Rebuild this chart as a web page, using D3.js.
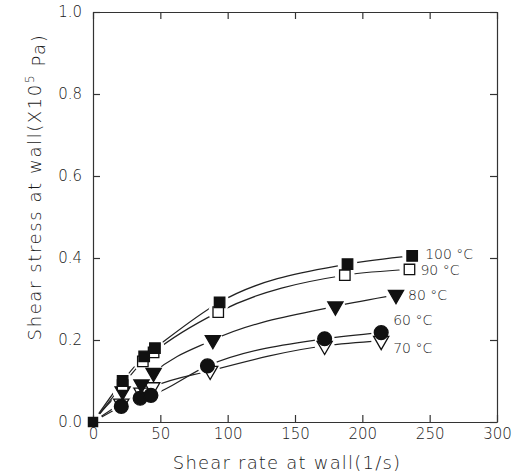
<!DOCTYPE html>
<html><head><meta charset="utf-8">
<script src="https://cdn.jsdelivr.net/npm/d3@7"></script>
<style>body{margin:0;background:#fff}svg{display:block}text{font-family:"DejaVu Sans",sans-serif;font-weight:200;fill:#1a1a1a}</style>
</head><body><svg id="c" width="520" height="476"></svg>
<script>
const xTicks = [0, 50, 100, 150, 200, 250, 300];
const yTicks = [0.0, 0.2, 0.4, 0.6, 0.8, 1.0];
const seriesNames = ["100 °C", "90 °C", "80 °C", "60 °C", "70 °C"];
const shearRate100 = [0, 22, 38, 46, 94, 189, 237];
const stress100 = [0, 0.100, 0.160, 0.180, 0.292, 0.385, 0.405];
const shearRate90 = [0, 22, 37, 45, 93, 187, 235];
const stress90 = [0, 0.090, 0.148, 0.170, 0.268, 0.358, 0.372];
const shearRate80 = [0, 22, 36, 45, 89, 180, 225];
const stress80 = [0, 0.075, 0.092, 0.120, 0.200, 0.282, 0.310];
const shearRate60 = [0, 21, 35, 43, 85, 172, 214];
const stress60 = [0, 0.038, 0.058, 0.065, 0.137, 0.203, 0.218];
const shearRate70 = [0, 21, 36, 44, 87, 172, 214];
const stress70 = [0, 0.045, 0.072, 0.085, 0.125, 0.186, 0.198];

const series = [
  {name: seriesNames[0], x: shearRate100, y: stress100, shape: "square", fill: "#111"},
  {name: seriesNames[1], x: shearRate90, y: stress90, shape: "square", fill: "#fff"},
  {name: seriesNames[2], x: shearRate80, y: stress80, shape: "tri", fill: "#111"},
  {name: seriesNames[3], x: shearRate60, y: stress60, shape: "circle", fill: "#111"},
  {name: seriesNames[4], x: shearRate70, y: stress70, shape: "tri", fill: "#fff"}
];
const labelOffsets = [[13, -2], [11, 1], [12, 0], [12, -13], [12, 7]];

const svg = d3.select("#c");
const x = d3.scaleLinear().domain([0, 300]).range([93, 497]);
const y = d3.scaleLinear().domain([0, 1]).range([422, 12]);

const axisColor = "#333";
function styleAxis(g) {
  g.selectAll("path.domain").attr("stroke", axisColor).attr("stroke-width", 1.2);
  g.selectAll(".tick line").attr("stroke", axisColor).attr("stroke-width", 1.2);
  g.selectAll(".tick text").attr("fill", "#333").style("font-size", "15px").style("font-family", '"DejaVu Sans",sans-serif').style("font-weight", "200");
}
svg.append("g").attr("transform", `translate(0,${y(0)})`)
  .call(d3.axisBottom(x).tickValues(xTicks).tickSizeInner(-7).tickSizeOuter(0).tickPadding(6).tickFormat(d3.format("d")))
  .call(styleAxis);
svg.append("g").attr("transform", `translate(0,${y(1)})`)
  .call(d3.axisTop(x).tickValues(xTicks).tickSizeInner(-7).tickSizeOuter(0).tickFormat(""))
  .call(styleAxis);
svg.append("g").attr("transform", `translate(${x(0)},0)`)
  .call(d3.axisLeft(y).tickValues(yTicks).tickSizeInner(-7).tickSizeOuter(0).tickPadding(11).tickFormat(d3.format(".1f")))
  .call(styleAxis);
svg.append("g").attr("transform", `translate(${x(300)},0)`)
  .call(d3.axisRight(y).tickValues(yTicks).tickSizeInner(-7).tickSizeOuter(0).tickFormat(""))
  .call(styleAxis);

// mask to create gaps around markers
const defs = svg.append("defs");
const mask = defs.append("mask").attr("id", "gap").attr("maskUnits", "userSpaceOnUse")
  .attr("x", 0).attr("y", 0).attr("width", 520).attr("height", 476);
mask.append("rect").attr("width", 520).attr("height", 476).attr("fill", "#fff");
series.forEach(s => {
  s.x.forEach((v, i) => {
    mask.append("circle").attr("cx", x(v)).attr("cy", y(s.y[i])).attr("r", 10).attr("fill", "#000");
  });
});

const line = d3.line().x(d => x(d[0])).y(d => y(d[1])).curve(d3.curveMonotoneX);
const lines = svg.append("g").attr("mask", "url(#gap)");
series.forEach(s => {
  lines.append("path").attr("d", line(s.x.map((v, i) => [v, s.y[i]])))
    .attr("fill", "none").attr("stroke", "#222").attr("stroke-width", 1.2);
});

const sym = {
  square: d3.symbol().type(d3.symbolSquare).size(110),
  circle: d3.symbol().type(d3.symbolCircle).size(150),
  tri: d3.symbol().type(d3.symbolTriangle).size(100)
};
const drawOrder = [4, 3, 2, 1, 0];
drawOrder.forEach(k => {
  const s = series[k];
  s.x.forEach((v, i) => {
    if (i === 0) return;
    svg.append("path").attr("d", sym[s.shape]())
      .attr("transform", `translate(${x(v)},${y(s.y[i])})` + (s.shape === "tri" ? " rotate(180)" : ""))
      .attr("fill", s.fill).attr("stroke", "#111").attr("stroke-width", 1.3);
  });
});
// origin marker
svg.append("path").attr("d", sym.square()).attr("transform", `translate(${x(0)},${y(0)})`).attr("fill", "#111");

series.forEach((s, k) => {
  const n = s.x.length - 1;
  svg.append("text").attr("x", x(s.x[n]) + labelOffsets[k][0]).attr("y", y(s.y[n]) + labelOffsets[k][1])
    .attr("dy", "0.35em").style("font-size", "14px").text(s.name);
});

svg.append("text").attr("x", 287).attr("y", 463).attr("dy", "0.35em").attr("text-anchor", "middle")
  .style("font-size", "18px").style("letter-spacing", "1.2px").text("Shear rate at wall(1/s)");
const yt = svg.append("text").attr("transform", "translate(35,187) rotate(-90)").attr("text-anchor", "middle")
  .attr("dy", "0.35em").style("font-size", "18px").style("letter-spacing", "1.6px");
yt.append("tspan").text("Shear stress at wall(X10");
yt.append("tspan").attr("dy", "-0.6em").style("font-size", "12px").text("5");
yt.append("tspan").attr("dy", "0.6em").text(" Pa)");
</script></body></html>
